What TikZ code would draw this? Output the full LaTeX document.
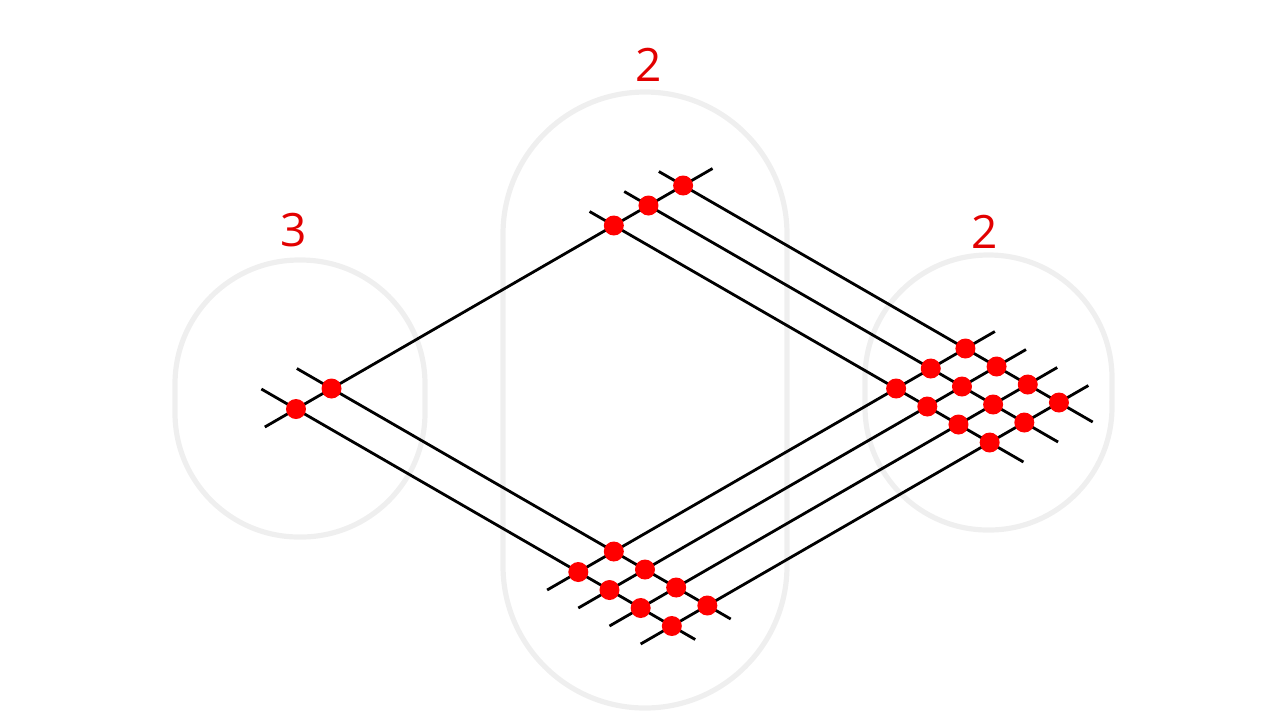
\documentclass[tikz,border=0pt]{standalone}
\usepackage{fontspec}
\setmainfont{Open Sans}
\usetikzlibrary{calc}
\definecolor{dotred}{RGB}{255,0,0}
\definecolor{numred}{RGB}{226,0,0}
\definecolor{ringgray}{RGB}{239,239,239}
\tikzset{
  ring/.style={draw=ringgray,line width=2.6pt},
  wire/.style={black,line width=1.4pt},
  num/.style={text=numred,font=\fontsize{23}{28}\selectfont,inner sep=0pt}
}

\begin{document}
\begin{tikzpicture}[x=0.5pt,y=-0.5pt]
        \useasboundingbox (0,0) rectangle (1280,720);
        % Draw the three gray groups
        \draw[ring,rounded corners=62pt] (175,260) rectangle (425,537);
        \draw[ring,rounded corners=71pt] (503,92) rectangle (787,708);
        \draw[ring,rounded corners=61.5pt] (865,255) rectangle (1112,530);
        % Add the group sizes
        \node[num] (left) at (294,230) {3};
        \node[num] (top) at (649,65) {2};
        \node[num] (right) at (985,232) {2};
        % Lattice: first axis down-right, second axis up-right
        \begin{scope}[shift={(331.5,388.5)},x={(0.433pt,-0.25pt)},y={(0.433pt,0.25pt)}]
            % Draw the down-right lines
            \foreach \b in {-41,0} \draw[wire] (-40,\b) -- (461,\b);
            \foreach \b in {326,366,406} \draw[wire] (-28,\b) -- (473,\b);
            % Draw the up-right lines
            \foreach \a in {0,326,362,398,434} \draw[wire] (\a,-77) -- (\a,440);
            % Plot the crossings
            \foreach \a in {0,326,362,398,434}
                \foreach \b in {-41,0,326,366,406}
                    \fill[dotred] (\a,\b) circle (5pt);
        \end{scope}
    \end{tikzpicture}
\end{document}
